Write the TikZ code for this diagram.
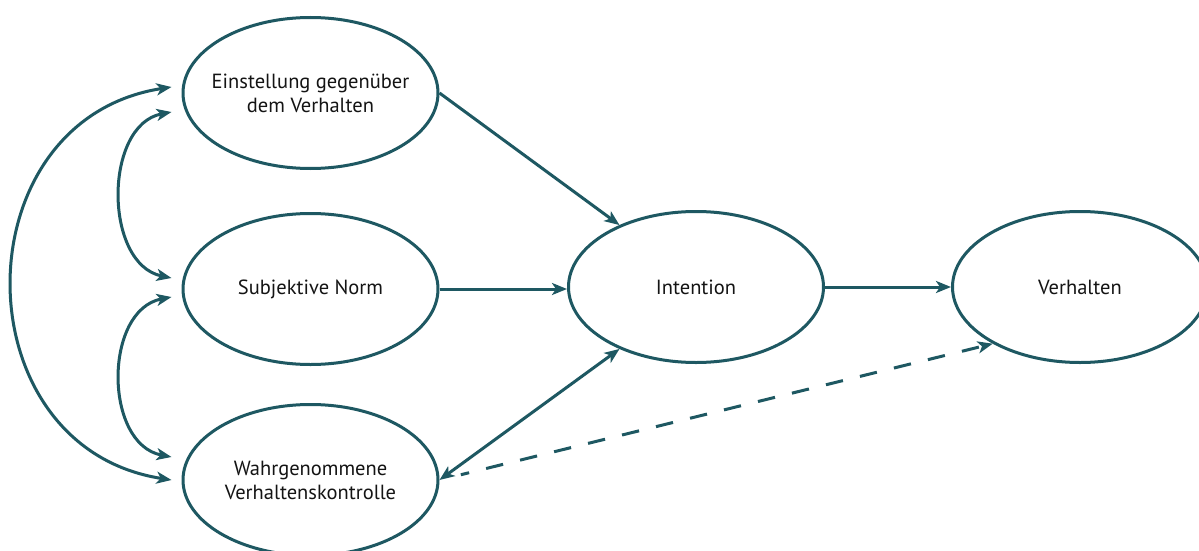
\documentclass[tikz,border=0pt]{standalone}
\usepackage{fontspec}
\setmainfont{PT Sans}
\usetikzlibrary{arrows.meta,shapes.geometric,calc}
\definecolor{teal}{RGB}{30,88,98}
\definecolor{ink}{RGB}{20,20,20}
\begin{document}
\begin{tikzpicture}[x=1pt,y=-1pt,
  oval/.style={ellipse,draw=teal,line width=3pt,minimum width=255pt,minimum height=151pt,
    inner xsep=-20pt,inner ysep=0pt,align=center,text=ink,font=\fontsize{20.5}{24}\selectfont},
  link/.style={draw=teal,line width=3pt,-{Stealth[length=15pt,width=12pt,inset=4pt]}},
  biline/.style={link,{Stealth[length=15pt,width=12pt,inset=4pt]}-{Stealth[length=15pt,width=12pt,inset=4pt]}}]
\useasboundingbox[fill=white] (0,0) rectangle (1199,551);

% constructs
\node[oval] (att) at (310.5,93) {Einstellung gegenüber\\dem Verhalten};
\node[oval] (sn)  at (310.5,289) {Subjektive Norm};
\node[oval] (pbc) at (310.5,480) {Wahrgenommene\\Verhaltenskontrolle};
\node[oval] (int) at (696,287) {Intention};
\node[oval] (beh) at (1080,287) {Verhalten};

% correlations among the predictors
\draw[biline] ($(att.west)+(-10,-6)$) .. controls ($(att.west)+(-222,27)$) and ($(pbc.west)+(-222,-33)$) .. ($(pbc.west)+(-10,0)$);
\draw[biline] ($(att.west)+(-10,19)$) .. controls ($(att.west)+(-78,32)$) and ($(sn.west)+(-78,-25)$) .. ($(sn.west)+(-10,-11)$);
\draw[biline] ($(sn.west)+(-10,8)$) .. controls ($(sn.west)+(-78,21)$) and ($(pbc.west)+(-78,-36)$) .. ($(pbc.west)+(-10,-23)$);

% paths to intention and behaviour
\draw[link] (att.east) -- (int.141.5);
\draw[link] (sn.east) -- (sn.east -| int.west);
\draw[biline] (pbc.east) -- (int.219);
\draw[link] (int.east) -- (beh.west);
\draw[link,dash pattern=on 17.5pt off 17.5pt,dash phase=9pt,shorten <=22pt] (pbc.east) -- (beh.213.7);
\end{tikzpicture}
\end{document}
